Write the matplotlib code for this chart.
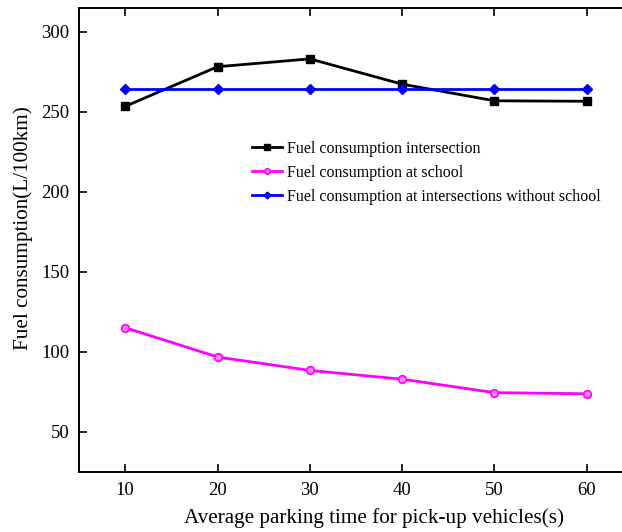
import matplotlib
matplotlib.use("Agg")
from matplotlib import pyplot as plt

plt.rcParams['font.family'] = ['Liberation Serif', 'DejaVu Serif']

# parking time (s) and fuel consumption values (L/100km)
parking_time = [10, 20, 30, 40, 50, 60]
fuel_intersection = [253.5, 278.3, 283.2, 267.4, 257.0, 256.7]
fuel_school = [115.2, 96.9, 88.5, 83.0, 74.6, 73.9]
fuel_no_school = [264.6, 264.6, 264.6, 264.6, 264.6, 264.6]

fig = plt.figure(figsize=(6.22, 5.32), dpi=100)
W, H = 622, 532
# the frame runs past the right border of the image
ax = fig.add_axes([79 / W, 1 - 472 / H, (633 - 79) / W, (472 - 8) / H])

ax.plot(parking_time, fuel_intersection, color='black', lw=2,
        marker='s', ms=5.5, label='Fuel consumption intersection')
ax.plot(parking_time, fuel_school, color='#ff00ff', lw=2,
        marker='o', ms=5.5, mfc='#ff80ff', mec='#ff00ff', mew=1.2,
        label='Fuel consumption at school')
ax.plot(parking_time, fuel_no_school, color='#0000ff', lw=2,
        marker='D', ms=5, label='Fuel consumption at intersections without school')

ax.set_xlim(5, 65)
ax.set_ylim(25, 315)
ax.set_xticks(parking_time)
ax.set_yticks([50, 100, 150, 200, 250, 300])
ax.tick_params(direction='in', length=6, width=1.2, top=True, right=True,
               labelsize=13.5, pad=7)
for s in ax.spines.values():
    s.set_linewidth(1.4)

ax.set_xlabel('Average parking time for pick-up vehicles(s)', fontsize=15.2)
ax.set_ylabel('Fuel consumption(L/100km)', fontsize=15.2)
ax.xaxis.set_label_coords((374.5 - 79) / (633 - 79), -(508 - 472) / 464)
ax.yaxis.set_label_coords(-(79 - 33) / (633 - 79), (472 - 228) / 464)

fig.legend(loc='upper left', bbox_to_anchor=(252 / W, 1 - 141 / H),
           frameon=False, fontsize=11.5, handlelength=1.9, handletextpad=0.3,
           labelspacing=0.5, borderpad=0, borderaxespad=0, markerscale=0.7)

fig.savefig('out.png', dpi=100)
